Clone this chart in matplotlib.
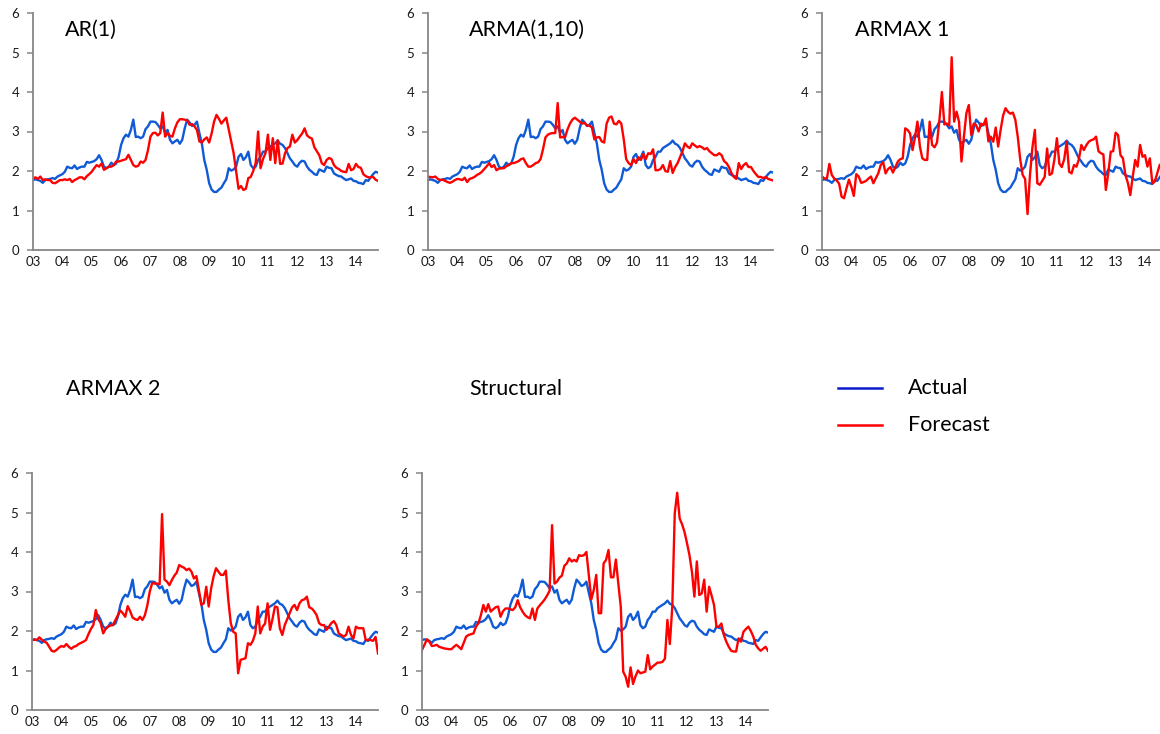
import matplotlib
matplotlib.use('Agg')
import matplotlib.pyplot as plt
from matplotlib.lines import Line2D
import numpy as np

# Monthly data, Jan 2003 - Oct 2014
yearLabels = ['03', '04', '05', '06', '07', '08', '09', '10', '11', '12', '13', '14']

actual = [
  1.77, 1.79, 1.77, 1.75, 1.70, 1.77, 1.79, 1.80, 1.82, 1.80, 1.86, 1.89,
  1.92, 1.98, 2.11, 2.08, 2.07, 2.14, 2.05, 2.09, 2.11, 2.11, 2.23, 2.21,
  2.23, 2.25, 2.30, 2.40, 2.28, 2.11, 2.07, 2.11, 2.21, 2.15, 2.19, 2.36,
  2.66, 2.83, 2.92, 2.87, 3.04, 3.30, 2.86, 2.87, 2.83, 2.87, 3.06, 3.13,
  3.25, 3.25, 3.24, 3.17, 3.08, 3.13, 2.97, 3.04, 2.79, 2.70, 2.75, 2.79,
  2.69, 2.79, 3.08, 3.30, 3.23, 3.14, 3.17, 3.25, 2.96, 2.70, 2.28, 2.03,
  1.69, 1.53, 1.47, 1.47, 1.53, 1.58, 1.69, 1.79, 2.07, 2.01, 2.04, 2.11,
  2.36, 2.43, 2.28, 2.35, 2.49, 2.15, 2.07, 2.11, 2.28, 2.36, 2.49, 2.49,
  2.58, 2.62, 2.66, 2.70, 2.77, 2.69, 2.66, 2.58, 2.45, 2.32, 2.24, 2.15,
  2.11, 2.21, 2.26, 2.24, 2.11, 2.03, 1.98, 1.92, 1.90, 2.04, 2.01, 1.98,
  2.11, 2.08, 2.07, 1.94, 1.90, 1.87, 1.86, 1.81, 1.77, 1.79, 1.81, 1.75,
  1.74, 1.70, 1.69, 1.67, 1.77, 1.75, 1.84, 1.92, 1.98, 1.96]

forecastAR1 = [
  1.81, 1.84, 1.80, 1.86, 1.77, 1.79, 1.77, 1.77, 1.70, 1.69, 1.73, 1.77,
  1.77, 1.79, 1.77, 1.80, 1.72, 1.77, 1.80, 1.84, 1.84, 1.79, 1.87, 1.92,
  1.98, 2.07, 2.15, 2.11, 2.19, 2.03, 2.07, 2.11, 2.11, 2.15, 2.24, 2.24,
  2.26, 2.28, 2.30, 2.41, 2.28, 2.15, 2.11, 2.13, 2.24, 2.21, 2.28, 2.53,
  2.87, 2.96, 2.97, 2.90, 2.96, 3.48, 2.87, 2.96, 2.89, 2.87, 3.08, 3.23,
  3.31, 3.31, 3.30, 3.28, 3.17, 3.19, 3.13, 3.04, 2.75, 2.72, 2.80, 2.85,
  2.72, 2.95, 3.25, 3.42, 3.32, 3.20, 3.28, 3.35, 3.05, 2.75, 2.45, 2.00,
  1.55, 1.62, 1.52, 1.55, 1.82, 1.85, 2.00, 2.20, 3.00, 2.07, 2.30, 2.45,
  2.92, 2.28, 2.83, 2.20, 2.78, 2.18, 2.19, 2.45, 2.58, 2.62, 2.92, 2.72,
  2.78, 2.87, 2.95, 3.08, 2.90, 2.85, 2.82, 2.60, 2.50, 2.40, 2.20, 2.15,
  2.28, 2.33, 2.30, 2.15, 2.08, 2.05, 2.00, 1.98, 1.97, 2.18, 2.02, 2.05,
  2.18, 2.10, 2.08, 1.92, 1.87, 1.84, 1.84, 1.85, 1.78, 1.75]

forecastARMA = [
  1.85, 1.85, 1.84, 1.86, 1.80, 1.77, 1.78, 1.75, 1.72, 1.70, 1.73, 1.77,
  1.80, 1.79, 1.77, 1.83, 1.72, 1.80, 1.82, 1.85, 1.90, 1.93, 1.98, 2.05,
  2.12, 2.20, 2.10, 2.15, 2.02, 2.06, 2.07, 2.07, 2.12, 2.15, 2.20, 2.20,
  2.22, 2.25, 2.30, 2.32, 2.20, 2.11, 2.11, 2.15, 2.20, 2.22, 2.30, 2.55,
  2.85, 2.92, 2.95, 2.96, 2.96, 3.72, 2.85, 2.86, 2.85, 3.05, 3.20, 3.30,
  3.35, 3.30, 3.25, 3.20, 3.22, 3.15, 3.15, 3.10, 2.80, 2.85, 2.86, 2.75,
  2.72, 3.20, 3.35, 3.38, 3.20, 3.18, 3.27, 3.20, 2.80, 2.30, 2.20, 2.15,
  2.30, 2.20, 2.35, 2.28, 2.43, 2.30, 2.45, 2.43, 2.55, 2.02, 2.02, 2.05,
  2.15, 2.00, 1.98, 2.25, 1.95, 2.10, 2.20, 2.35, 2.50, 2.70, 2.62, 2.58,
  2.70, 2.65, 2.60, 2.63, 2.60, 2.55, 2.58, 2.50, 2.45, 2.40, 2.40, 2.45,
  2.40, 2.25, 2.20, 2.10, 1.95, 1.85, 1.80, 2.20, 2.05, 2.15, 2.20, 2.10,
  2.10, 2.00, 1.92, 1.85, 1.85, 1.82, 1.85, 1.80, 1.78, 1.76]

forecastARMAX1 = [
  1.86, 1.81, 1.81, 2.18, 1.90, 1.81, 1.76, 1.68, 1.35, 1.31, 1.56, 1.78,
  1.60, 1.37, 1.92, 1.86, 1.70, 1.72, 1.75, 1.81, 1.86, 1.69, 1.82, 1.94,
  2.15, 2.22, 1.94, 2.05, 2.10, 1.96, 2.10, 2.24, 2.30, 2.32, 3.08, 3.04,
  2.95, 2.53, 2.85, 3.25, 2.62, 2.32, 2.28, 2.28, 3.25, 2.66, 2.60, 2.72,
  3.30, 4.00, 3.18, 3.20, 3.15, 4.88, 3.25, 3.50, 3.25, 2.24, 2.87, 3.46,
  3.67, 2.91, 3.20, 3.16, 3.00, 3.20, 3.16, 3.33, 2.75, 2.87, 2.74, 3.10,
  2.62, 3.04, 3.40, 3.59, 3.50, 3.45, 3.48, 3.30, 2.87, 2.30, 1.90, 1.80,
  0.91, 1.90, 2.60, 3.04, 1.69, 1.65, 1.75, 1.85, 2.57, 1.90, 1.94, 2.30,
  2.83, 2.19, 2.10, 2.30, 2.74, 1.98, 1.94, 2.15, 2.11, 2.30, 2.66, 2.53,
  2.65, 2.74, 2.78, 2.80, 2.87, 2.50, 2.45, 2.42, 1.52, 1.94, 2.49, 2.50,
  2.97, 2.91, 2.40, 2.32, 1.90, 1.70, 1.39, 1.86, 2.28, 2.11, 2.66, 2.36,
  2.40, 2.11, 2.32, 1.69, 1.73, 1.94, 2.15, 2.20, 2.30, 2.20]

forecastARMAX2 = [
  1.77, 1.78, 1.77, 1.84, 1.78, 1.73, 1.70, 1.60, 1.50, 1.48, 1.52, 1.58,
  1.62, 1.60, 1.67, 1.60, 1.55, 1.60, 1.62, 1.67, 1.70, 1.73, 1.77, 1.92,
  2.05, 2.15, 2.53, 2.30, 2.20, 1.94, 2.05, 2.11, 2.14, 2.15, 2.28, 2.40,
  2.52, 2.45, 2.36, 2.63, 2.50, 2.34, 2.30, 2.28, 2.36, 2.28, 2.40, 2.65,
  3.00, 3.22, 3.20, 3.20, 3.18, 4.96, 3.30, 3.25, 3.16, 3.29, 3.40, 3.48,
  3.67, 3.63, 3.60, 3.54, 3.58, 3.50, 3.33, 3.39, 3.04, 2.66, 2.70, 3.12,
  2.62, 3.08, 3.38, 3.59, 3.50, 3.42, 3.42, 3.53, 2.78, 2.20, 1.98, 1.94,
  0.93, 1.27, 1.29, 1.31, 1.69, 1.65, 1.75, 1.94, 2.62, 1.94, 2.11, 2.19,
  2.70, 2.03, 2.30, 2.62, 2.60, 2.07, 1.90, 2.15, 2.30, 2.45, 2.60, 2.66,
  2.53, 2.70, 2.78, 2.80, 2.87, 2.60, 2.57, 2.50, 2.40, 2.20, 2.15, 2.15,
  2.03, 2.11, 2.20, 2.25, 2.15, 1.94, 1.90, 1.86, 1.90, 2.11, 1.90, 1.81,
  2.11, 2.07, 2.07, 2.07, 1.77, 1.78, 1.77, 1.75, 1.85, 1.43]

forecastStructural = [
  1.52, 1.65, 1.79, 1.73, 1.62, 1.63, 1.65, 1.60, 1.58, 1.56, 1.55, 1.54,
  1.54, 1.60, 1.65, 1.60, 1.54, 1.70, 1.86, 1.90, 1.92, 1.94, 2.11, 2.20,
  2.40, 2.66, 2.49, 2.68, 2.49, 2.55, 2.60, 2.62, 2.36, 2.50, 2.57, 2.57,
  2.55, 2.53, 2.60, 2.78, 2.60, 2.49, 2.40, 2.35, 2.32, 2.57, 2.28, 2.57,
  2.65, 2.72, 2.80, 2.90, 3.02, 4.68, 3.20, 3.25, 3.35, 3.40, 3.65, 3.71,
  3.84, 3.76, 3.80, 3.76, 3.92, 3.90, 3.92, 4.00, 3.40, 2.80, 3.04, 3.42,
  2.45, 2.45, 3.71, 3.80, 4.05, 3.36, 3.36, 3.81, 3.20, 2.62, 0.97, 0.84,
  0.59, 1.08, 0.66, 0.85, 1.00, 0.93, 0.95, 0.97, 1.39, 1.03, 1.10, 1.15,
  1.20, 1.20, 1.22, 1.30, 2.28, 1.67, 2.62, 4.98, 5.50, 4.85, 4.70, 4.50,
  4.22, 3.92, 3.50, 2.87, 3.76, 2.91, 2.95, 3.30, 2.49, 3.12, 2.90, 2.66,
  2.11, 2.11, 2.19, 1.90, 1.73, 1.60, 1.50, 1.48, 1.48, 1.81, 1.73, 1.98,
  2.05, 2.11, 2.00, 1.86, 1.65, 1.56, 1.50, 1.55, 1.60, 1.50]

# Cores e fontes
BLUE = '#0f5ad6'
RED = '#ff0000'
AXIS_GRAY = '#868686'
plt.rcParams['font.family'] = ['Lato', 'DejaVu Sans']

W, H = 1160, 734
fig = plt.figure(figsize=(W / 100, H / 100), dpi=100)

# left, right, top, bottom in pixels -> figure fraction
def pxRect(l, r, t, b):
  return [l / W, 1 - b / H, (r - l) / W, (b - t) / H]

def drawPanel(rect, forecast):
  ax = fig.add_axes(pxRect(*rect))
  x = np.arange(len(actual))
  ax.plot(x, actual, color=BLUE, lw=1.7, solid_joinstyle='round')
  ax.plot(x, forecast, color=RED, lw=1.7, solid_joinstyle='round')
  ax.set_xlim(0, len(actual) - 1)
  ax.set_ylim(0, 6)
  ax.set_yticks(range(7))
  ax.set_xticks(np.arange(len(yearLabels)) * 12, yearLabels)
  for side in ['top', 'right']:
    ax.spines[side].set_visible(False)
  for side in ['left', 'bottom']:
    ax.spines[side].set_color(AXIS_GRAY)
    ax.spines[side].set_linewidth(1.3)
  ax.tick_params(axis='y', direction='out', length=4, width=1.1, color=AXIS_GRAY,
                 labelsize=9.5, labelcolor='#1a1a1a', pad=6)
  ax.tick_params(axis='x', length=0, labelsize=9.5, labelcolor='#1a1a1a', pad=4)
  return ax

panels = [
  ((33, 378, 13, 250), forecastAR1, 'AR(1)', (65, 30)),
  ((428, 773, 13, 250), forecastARMA, 'ARMA(1,10)', (469, 30)),
  ((822, 1167, 13, 250), forecastARMAX1, 'ARMAX 1', (855, 30)),
  ((32, 378, 473, 710), forecastARMAX2, 'ARMAX 2', (66, 389)),
  ((422, 768, 473, 710), forecastStructural, 'Structural', (469, 389)),
]

for rect, forecast, title, pos in panels:
  drawPanel(rect, forecast)
  fig.text(pos[0] / W, 1 - pos[1] / H, title, fontsize=15.5, ha='left', va='center')

# Legenda
legendItems = [('Actual', '#0a1ccc', 388), ('Forecast', RED, 425)]
for label, color, ypx in legendItems:
  fig.add_artist(Line2D([838 / W, 882 / W], [1 - ypx / H, 1 - ypx / H],
                        transform=fig.transFigure, color=color, lw=1.8))
  fig.text(908 / W, 1 - ypx / H, label, fontsize=15.5, ha='left', va='center')

fig.savefig('out.png', dpi=100)
